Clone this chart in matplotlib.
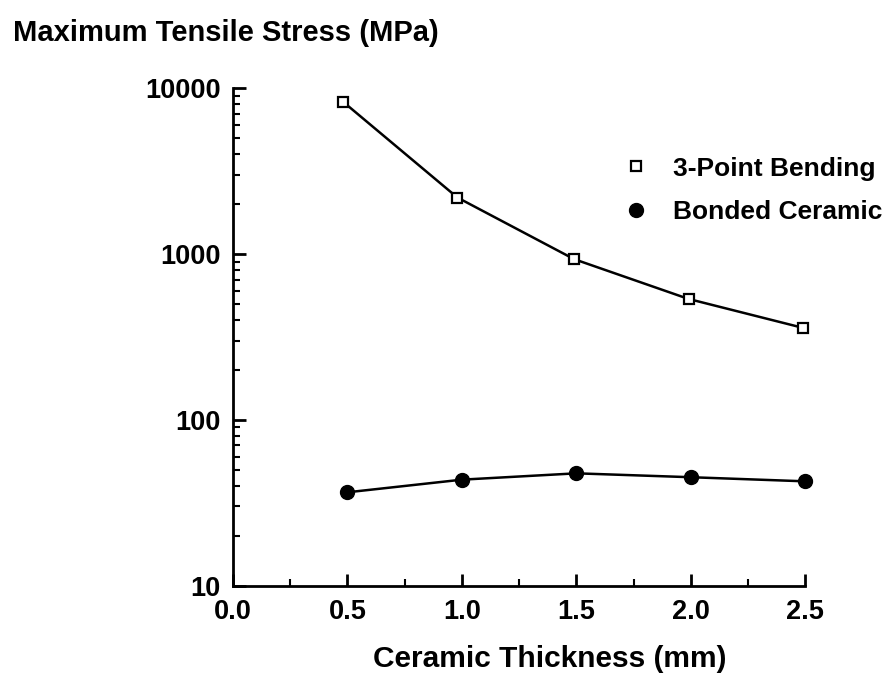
import numpy as np
import matplotlib.pyplot as plt
from matplotlib.lines import Line2D
from matplotlib.ticker import FixedLocator, LogLocator, NullFormatter

plt.rcParams.update({'font.family': 'Liberation Sans', 'font.weight': 'bold', 'font.size': 19})

# ceramic thickness (mm)
thick_bend = [0.48, 0.98, 1.49, 1.99, 2.49]
thick_bond = [0.5, 1.0, 1.5, 2.0, 2.5]
# maximum tensile stress (MPa)
stress_bend = [8300, 2190, 930, 535, 358]
stress_bond = [36.5, 43.5, 47.5, 45.0, 42.5]

x_ticks = [0.0, 0.5, 1.0, 1.5, 2.0, 2.5]
x_labels = ['0.0', '0.5', '1.0', '1.5', '2.0', '2.5']
y_ticks = [10, 100, 1000, 10000]
y_labels = ['10', '100', '1000', '10000']

fig = plt.figure(figsize=(8.89, 6.73), dpi=100)
ax = fig.add_axes([0.262, 0.13, 0.644, 0.739])

ax.plot(thick_bend, stress_bend, color='black', lw=1.8, marker='s', ms=7,
        mfc='white', mec='black', mew=1.6, clip_on=False)
ax.plot(thick_bond, stress_bond, color='black', lw=1.8, marker='o', ms=10,
        mfc='black', mec='black', clip_on=False)

ax.set_yscale('log')
ax.set_xlim(0, 2.5)
ax.set_ylim(10, 10000)
ax.xaxis.set_major_locator(FixedLocator(x_ticks))
ax.set_xticklabels(x_labels)
ax.xaxis.set_minor_locator(FixedLocator(np.arange(0.25, 2.5, 0.5)))
ax.yaxis.set_major_locator(FixedLocator(y_ticks))
ax.set_yticklabels(y_labels)
ax.yaxis.set_minor_locator(LogLocator(base=10, subs=np.arange(2, 10)))
ax.yaxis.set_minor_formatter(NullFormatter())

for side in ['top', 'right']:
    ax.spines[side].set_visible(False)
for side in ['left', 'bottom']:
    ax.spines[side].set_linewidth(2)
ax.tick_params(which='major', direction='in', length=9, width=2, labelsize=19.5)
ax.tick_params(which='minor', direction='in', length=5, width=1.5)
ax.tick_params(axis='x', pad=10)
ax.tick_params(axis='y', pad=9)

ax.set_xlabel('Ceramic Thickness (mm)', fontsize=21.5, fontweight='bold')
ax.xaxis.set_label_coords(0.554, -0.12)
fig.text(0.015, 0.951, 'Maximum Tensile Stress (MPa)', fontsize=21, fontweight='bold',
         ha='left', va='center')

# legend shows markers only
handles = [Line2D([], [], ls='none', marker='s', ms=7, mfc='white', mec='black', mew=1.6),
           Line2D([], [], ls='none', marker='o', ms=10, mfc='black', mec='black')]
ax.legend(handles, ['3-Point Bending', 'Bonded Ceramic'], loc='upper left',
          bbox_to_anchor=(0.648, 0.91), frameon=False, fontsize=19,
          handlelength=0.6, handletextpad=1.1, labelspacing=0.75, numpoints=1)

fig.savefig('out.png', dpi=100)
